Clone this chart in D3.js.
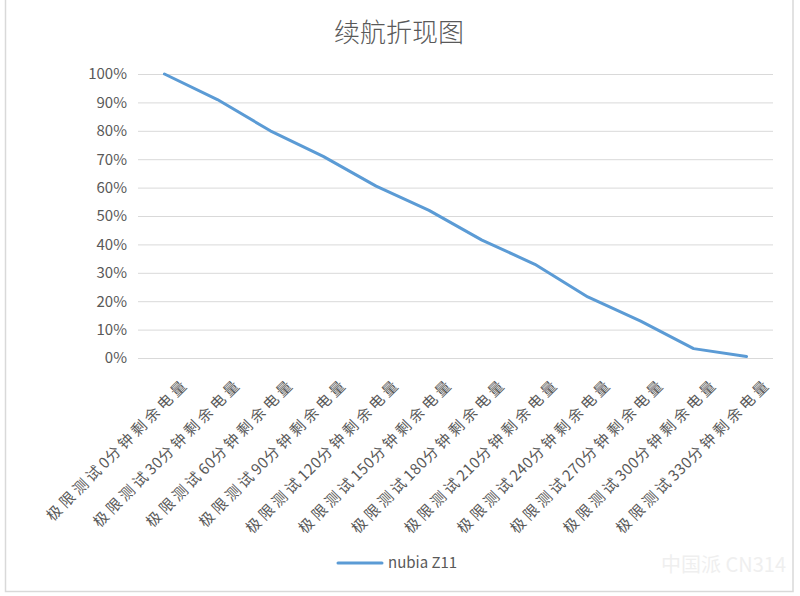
<!DOCTYPE html>
<html>
<head>
<meta charset="utf-8">
<script src="https://cdn.jsdelivr.net/npm/d3@7"></script>
<style>
  body { margin: 0; background: #fff; }
  text { font-family: "Noto Sans CJK SC", "DejaVu Sans", sans-serif; }
</style>
</head>
<body>
<div id="chart"></div>
<script>
// battery test data
const minutes = [0, 30, 60, 90, 120, 150, 180, 210, 240, 270, 300, 330];
const categories = minutes.map(m => "极限测试" + m + "分钟剩余电量");
const battery = [100, 91, 80, 71, 60.5, 52, 41.5, 33, 21.5, 13, 3.3, 0.5];
const yTicks = [0, 10, 20, 30, 40, 50, 60, 70, 80, 90, 100];
const seriesName = "nubia Z11";

const conf = { width: 800, height: 596, left: 138, right: 27, top: 74, bottom: 238 };
const w = conf.width - conf.left - conf.right;
const h = conf.height - conf.top - conf.bottom;

const svg = d3.select("#chart").append("svg")
    .attr("width", conf.width)
    .attr("height", conf.height);

// outer frame
svg.append("rect")
    .attr("x", 5.5).attr("y", -2)
    .attr("width", 787.5).attr("height", 593.5)
    .attr("fill", "none").attr("stroke", "#d9d9d9").attr("stroke-width", 1.5);

svg.append("text")
    .attr("x", 399).attr("y", 42)
    .attr("text-anchor", "middle")
    .attr("font-size", 26)
    .attr("font-weight", 300)
    .attr("fill", "#595959")
    .text("续航折现图");

const g = svg.append("g").attr("transform", `translate(${conf.left},${conf.top})`);

let x = d3.scalePoint().domain(categories).range([0, w]).padding(0.5);
let y = d3.scaleLinear().domain([0, 100]).range([h, 0]);

// gridlines + y labels
g.append("g")
    .call(d3.axisLeft(y).tickValues(yTicks).tickSize(-w).tickFormat(d => d + "%"))
    .call(a => a.select(".domain").remove())
    .call(a => a.selectAll("line").attr("stroke", "#d9d9d9").attr("stroke-width", 1))
    .call(a => a.selectAll("text").attr("x", -11).attr("fill", "#595959")
        .attr("font-size", 15).attr("font-family", "'Noto Sans CJK SC', sans-serif"));

// x labels, rotated; CJK chars spaced out, digits tight
g.append("g")
    .attr("transform", `translate(0,${h})`)
    .call(d3.axisBottom(x).tickSize(0))
    .call(a => a.select(".domain").remove())
    .call(a => a.selectAll("text")
        .attr("fill", "#595959")
        .attr("font-size", 15)
        .attr("font-family", "'Noto Sans CJK SC', sans-serif")
        .attr("text-anchor", "end")
        .attr("dy", "0.35em")
        .attr("transform", "translate(19,21) rotate(-45)")
        .each(function(d) {
            const t = d3.select(this);
            t.text(null);
            d.match(/\d+|\D+/g).forEach(part => {
                t.append("tspan")
                    .attr("letter-spacing", /\d/.test(part) ? "0.5px" : "3.5px")
                    .text(part);
            });
        }));

// the line
g.append("path")
    .datum(battery)
    .attr("fill", "none")
    .attr("stroke", "#5b9bd5")
    .attr("stroke-width", 3)
    .attr("stroke-linejoin", "round")
    .attr("stroke-linecap", "round")
    .attr("d", d3.line()
        .x((d, i) => x(categories[i]))
        .y(d => y(d)));

// legend
const lg = svg.append("g").attr("transform", "translate(338,563)");
lg.append("line").attr("x1", 0).attr("x2", 44)
    .attr("stroke", "#5b9bd5").attr("stroke-width", 3).attr("stroke-linecap", "round");
lg.append("text").attr("x", 50).attr("dy", "0.35em")
    .attr("font-size", 15).attr("fill", "#595959")
    .text(seriesName);

// faint watermark
svg.append("text")
    .attr("x", 786).attr("y", 572)
    .attr("text-anchor", "end")
    .attr("font-size", 20)
    .attr("fill", "#efefef")
    .text("中国派 CN314");
</script>
</body>
</html>
